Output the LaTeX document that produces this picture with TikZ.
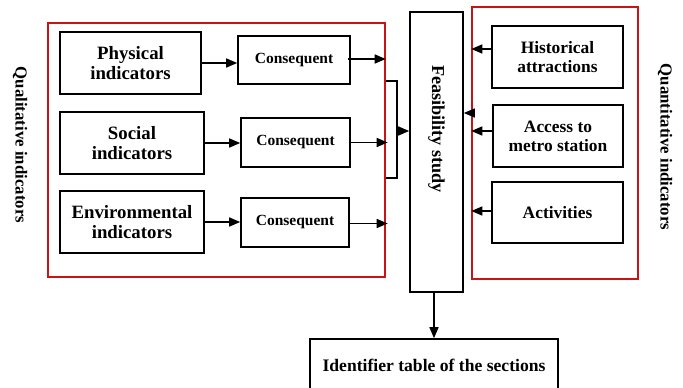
\documentclass[tikz,border=0pt]{standalone}
\usepackage{fontspec}
\setmainfont{Liberation Serif}
\usetikzlibrary{arrows.meta}
\definecolor{frame}{RGB}{200,20,20}
\tikzset{
  box/.style={draw=black, line width=1.6pt, inner sep=0pt, align=center, font=\bfseries\fontsize{18.8}{19.5}\selectfont},
  rbox/.style={box, font=\bfseries\fontsize{17.4}{19}\selectfont},
  cbox/.style={box, font=\bfseries\fontsize{15.5}{17}\selectfont},
  redbox/.style={draw=frame, line width=1.4pt, inner sep=0pt},
  arr/.style={line width=1.5pt, -{Triangle[length=11pt,width=9pt]}},
  ln/.style={line width=1.5pt},
  side/.style={font=\bfseries\fontsize{16.8}{18}\selectfont, rotate=-90, inner sep=0pt}
}
\begin{document}
\begin{tikzpicture}[x=1pt,y=-1pt]
\useasboundingbox (0,0) rectangle (683,388);
% red frames
\node[redbox, minimum width=337pt, minimum height=254pt] (lred) at (216.5,150) {};
\node[redbox, minimum width=166pt, minimum height=272pt] (rred) at (555,143) {};
% left boxes
\node[box, minimum width=141pt, minimum height=62pt] (phys) at (130.5,63) {Physical\\indicators};
\node[box, minimum width=144pt, minimum height=62pt] (soc) at (132,143) {Social\\indicators};
\node[box, minimum width=144pt, minimum height=62pt] (env) at (132,222) {Environmental\\indicators};
\node[cbox, minimum width=112pt, minimum height=48pt] (c1) at (294,60) {Consequent};
\node[cbox, minimum width=109pt, minimum height=49pt] (c2) at (295.5,142.5) {Consequent};
\node[cbox, minimum width=108pt, minimum height=49pt] (c3) at (295,222.5) {Consequent};
% feasibility
\node[box, minimum width=53pt, minimum height=280pt] (feas) at (436.5,152) {};
\node[side, font=\bfseries\fontsize{18.2}{19}\selectfont] (feaslabel) at (436.5,129) {Feasibility study};
% right boxes
\node[rbox, minimum width=131pt, minimum height=62pt] (hist) at (557.5,57) {Historical\\attractions};
\node[rbox, minimum width=130pt, minimum height=62pt] (acc) at (558,136) {Access to\\metro station};
\node[rbox, minimum width=131pt, minimum height=61pt] (act) at (557.5,212.5) {Activities};
% identifier
\node[box, font=\bfseries\fontsize{17.6}{19}\selectfont, minimum width=248pt, minimum height=52pt] (ident) at (434,365) {Identifier table of the sections};
% side labels
\node[side] (qual) at (20,145) {Qualitative indicators};
\node[side] (quant) at (665,147) {Quantitative indicators};
% left arrows
\draw[arr] (phys.east) -- (phys.east -| c1.west);
\draw[arr] (soc.east) -- (soc.east -| c2.west);
\draw[arr] (env.east) -- (env.east -| c3.west);
\draw[arr] ([xshift=-3pt,yshift=1pt]c1.east) -- ([yshift=1pt]c1.east -| lred.east);
\draw[arr] (c2.east) -- ([xshift=2pt]c2.east -| lred.east);
\draw[arr] ([yshift=-1pt]c3.east) -- ([xshift=2pt,yshift=-1pt]c3.east -| lred.east);
% bracket
\coordinate (bt) at (397,81);
\coordinate (bb) at (397,178);
\coordinate (bm) at (397,131);
\draw[ln] (bt -| lred.east) -- (bt) -- (bb) -- (bb -| lred.east);
\draw[arr] (bm) -- (bm -| feas.west);
% right arrows
\draw[arr] ([yshift=8pt]hist.west) -- ([yshift=8pt]hist.west -| rred.west);
\draw[arr] ([yshift=5pt]acc.west) -- ([yshift=5pt]acc.west -| rred.west);
\draw[arr] ([yshift=1.5pt]act.west) -- ([yshift=1.5pt]act.west -| rred.west);
\draw[arr] ([yshift=39pt]feas.east -| rred.west) -- ([yshift=39pt]feas.east);
% down arrow
\draw[arr] (ident.north |- feas.south) -- (ident.north);
\end{tikzpicture}
\end{document}
